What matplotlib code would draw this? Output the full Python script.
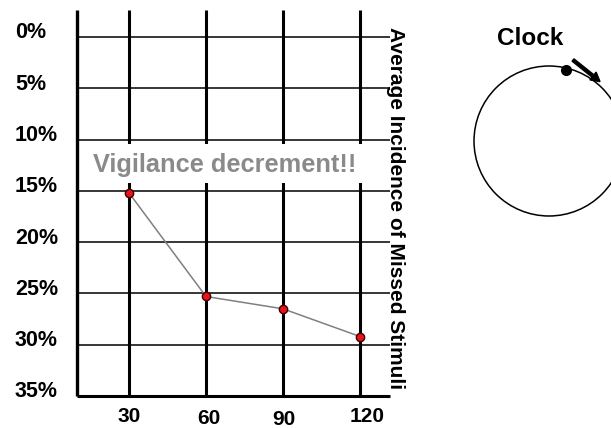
import matplotlib
matplotlib.use("Agg")
import matplotlib.pyplot as plt
from matplotlib.patches import Circle, FancyArrow
import matplotlib.transforms as mtransforms

plt.rcParams['font.family'] = ['Liberation Sans', 'DejaVu Sans']
plt.rcParams['font.weight'] = 'bold'

# ---- data ----
minutes = [30, 60, 90, 120]
missed_pct = [15.2, 25.3, 26.5, 29.2]
y_ticks = [0, 5, 10, 15, 20, 25, 30, 35]
y_tick_labels = ['0%', '5%', '10%', '15%', '20%', '25%', '30%', '35%']
x_tick_labels = ['30', '60', '90', '120']
x_label_dy = [0, 1, 2.5, -1]   # small vertical jitter of labels (px)
x_label_dx = [0, 3, 1, 7]
annotation = 'Vigilance decrement!!'
right_label = 'Average Incidence of Missed Stimuli'
clock_title = 'Clock'

W, H = 611, 428
fig = plt.figure(figsize=(W / 100, H / 100), dpi=100)

# main axes (pixel box 77..390 x 10..396)
L, R, T, B = 77, 390, 10, 396
ax = fig.add_axes([L / W, 1 - B / H, (R - L) / W, (B - T) / H])
ax.set_xlim(9.74, 131.7)
ax.set_ylim(35, -2.63)
for s in ax.spines.values():
    s.set_visible(False)
ax.set_xticks([])
ax.set_yticks([])

# horizontal grid lines (thin)
ax.hlines(y_ticks[:-1], 9.74, 131.7, colors='black', lw=1.1, zorder=1)
# bottom axis line (thick)
ax.hlines(y_ticks[-1], 9.74, 131.7, colors='black', lw=2.2, zorder=1, clip_on=False)
# left axis line
ax.vlines(9.74, -2.63, 35, colors='black', lw=2.4, zorder=1, clip_on=False)
# vertical lines at each time point (thick)
ax.vlines(minutes, -2.63, 35, colors='black', lw=2.2, zorder=1)

# data line + markers
ax.plot(minutes, missed_pct, color='#808080', lw=1.1, zorder=4)
ax.plot(minutes, missed_pct, ls='none', marker='o', ms=6, mfc='#e8141b',
        mec='#3a0000', mew=1.0, zorder=5)

# y tick labels (left aligned, slightly above lines)
ytrans = mtransforms.blended_transform_factory(fig.transFigure, ax.transData)
ytrans = ytrans + mtransforms.ScaledTranslation(0, 4 / 100, fig.dpi_scale_trans)
for v, lab in zip(y_ticks, y_tick_labels):
    ax.text(15 / W, v, lab, transform=ytrans, ha='left', va='center',
            fontsize=15.5, fontweight='bold')

# x tick labels
xtrans = mtransforms.blended_transform_factory(ax.transData, fig.transFigure)
for xv, lab, dy, dx in zip(minutes, x_tick_labels, x_label_dy, x_label_dx):
    t = xtrans + mtransforms.ScaledTranslation(dx / 100, -dy / 100, fig.dpi_scale_trans)
    ax.text(xv, 1 - 417 / H, lab, transform=t, ha='center', va='center',
            fontsize=15, fontweight='bold')

# annotation with white background
fig.patches.append(plt.Rectangle((80 / W, 1 - 183 / H), (366 - 80) / W, (183 - 144) / H,
                                 transform=fig.transFigure, facecolor='white',
                                 edgecolor='none', zorder=3))
fig.text(93 / W, 1 - 165 / H, annotation, ha='left',
         va='center', fontsize=18.3, fontweight='bold', color='#8a8a8a', zorder=6)

# right rotated label
fig.text(396 / W, 1 - 208 / H, right_label, rotation=-90, ha='center', va='center',
         fontsize=15, fontweight='bold', zorder=6)

# clock axes in pixel coordinates
cax = fig.add_axes([440 / W, 0, (W - 440) / W, 1])
cax.set_xlim(440, W)
cax.set_ylim(H, 0)
cax.axis('off')
cax.add_patch(Circle((549, 141), 75, fill=False, ec='black', lw=1.1))
cax.plot([566], [70], marker='o', ms=7, color='black')
cax.add_patch(FancyArrow(573, 60, 20, 16, width=3, head_width=10, head_length=9,
                         length_includes_head=False, color='black'))
cax.text(530, 38, clock_title, ha='center', va='center', fontsize=17.5, fontweight='bold')

fig.savefig('out.png', dpi=100)
